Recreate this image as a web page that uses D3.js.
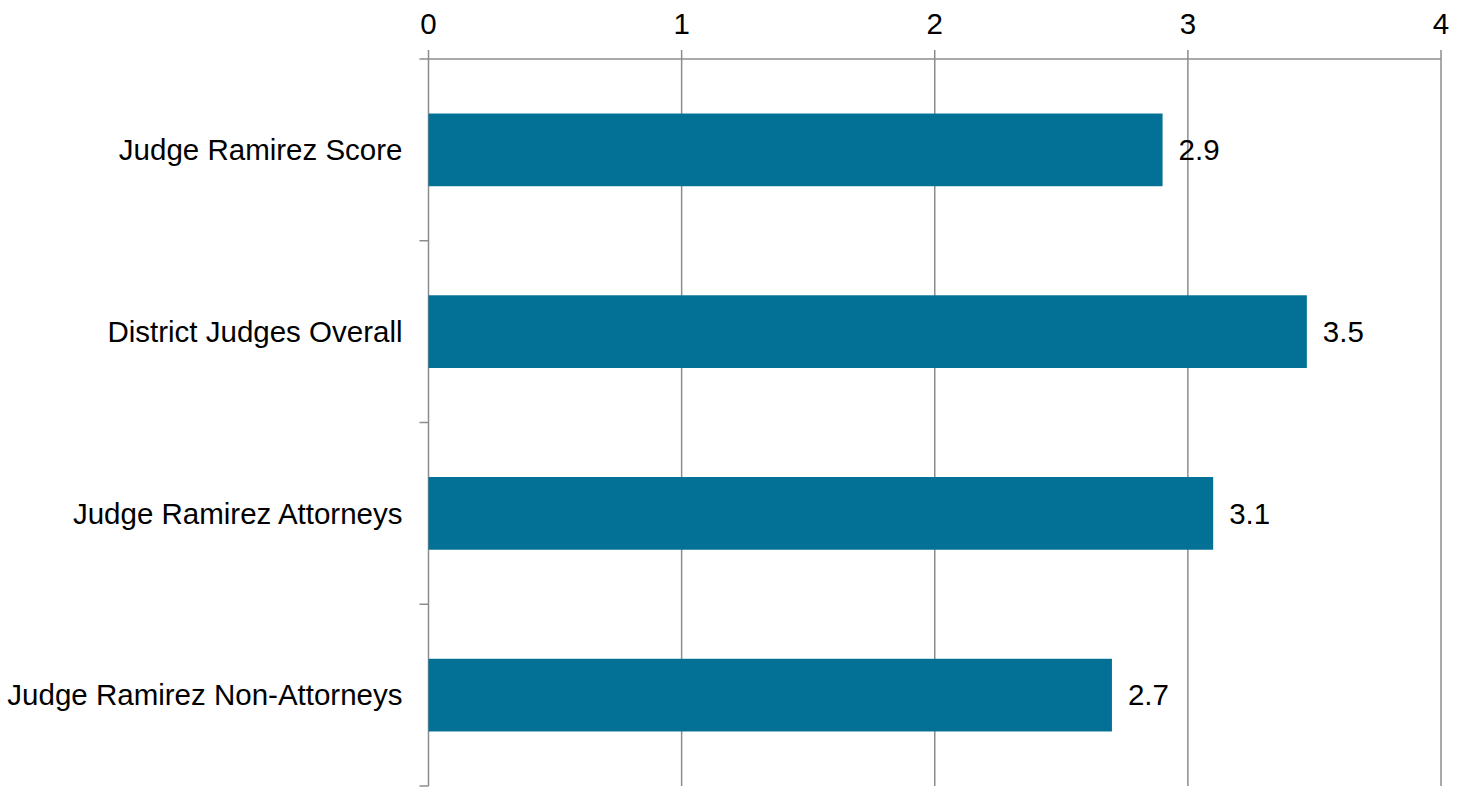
<!DOCTYPE html>
<html>
<head>
<meta charset="utf-8">
<script src="https://cdn.jsdelivr.net/npm/d3@7"></script>
<style>
  body { margin: 0; background: #fff; }
  text { font-family: "Liberation Sans", Arial, sans-serif; fill: #000; }
</style>
</head>
<body>
<svg id="chart" width="1465" height="787"></svg>
<script>
const categories = ["Judge Ramirez Score", "District Judges Overall", "Judge Ramirez Attorneys", "Judge Ramirez Non-Attorneys"];
const scores = [2.9, 3.47, 3.1, 2.7];
const xTicks = [0, 1, 2, 3, 4];

const margin = { top: 59, right: 24, bottom: 1, left: 428.5 };
const width = 1465, height = 787;
const fontSize = 29.5;
const svg = d3.select("#chart");
const gridColor = "#8c8c8c";

const x = d3.scaleLinear().domain([0, 4]).range([margin.left, width - margin.right]);
const y = d3.scaleBand().domain(categories).range([margin.top, height - margin.bottom]).paddingInner(0.6).paddingOuter(0.3);

// grid lines
svg.selectAll("line.grid")
    .data(xTicks)
    .enter()
    .append("line")
    .attr("x1", d => x(d))
    .attr("x2", d => x(d))
    .attr("y1", margin.top - 9)
    .attr("y2", height - margin.bottom)
    .attr("stroke", gridColor)
    .attr("stroke-width", 1.5);

// top axis line
svg.append("line")
    .attr("x1", margin.left - 9).attr("x2", x(4))
    .attr("y1", margin.top).attr("y2", margin.top)
    .attr("stroke", gridColor).attr("stroke-width", 1.5);

// left category ticks at band boundaries
const bounds = d3.range(categories.length + 1).map(i => margin.top + i * (height - margin.bottom - margin.top) / categories.length);
svg.selectAll("line.ytick")
    .data(bounds.slice(1))
    .enter()
    .append("line")
    .attr("x1", margin.left - 9).attr("x2", margin.left)
    .attr("y1", d => d).attr("y2", d => d)
    .attr("stroke", gridColor).attr("stroke-width", 1.5);

// x tick labels
svg.selectAll("text.xlab")
    .data(xTicks)
    .enter()
    .append("text")
    .attr("x", d => x(d))
    .attr("y", 34)
    .attr("text-anchor", "middle")
    .attr("font-size", fontSize)
    .text(d => d);

// bars
svg.selectAll("rect.bar")
    .data(categories)
    .enter()
    .append("rect")
    .attr("x", x(0))
    .attr("y", d => y(d))
    .attr("width", (d, i) => x(scores[i]) - x(0))
    .attr("height", y.bandwidth())
    .attr("fill", "#037096");

// value labels
svg.selectAll("text.val")
    .data(categories)
    .enter()
    .append("text")
    .attr("x", (d, i) => x(scores[i]) + 16)
    .attr("y", d => y(d) + y.bandwidth() / 2)
    .attr("dy", "0.35em")
    .attr("font-size", fontSize)
    .text((d, i) => d3.format(".1f")(scores[i]));

// category labels
svg.selectAll("text.cat")
    .data(categories)
    .enter()
    .append("text")
    .attr("x", margin.left - 26)
    .attr("y", d => y(d) + y.bandwidth() / 2)
    .attr("dy", "0.35em")
    .attr("text-anchor", "end")
    .attr("font-size", fontSize)
    .text(d => d);
</script>
</body>
</html>
